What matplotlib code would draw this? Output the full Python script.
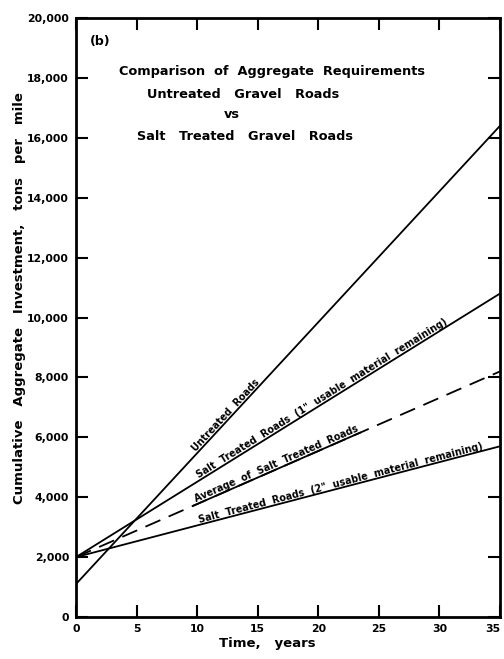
import numpy as np
import matplotlib
matplotlib.use("Agg")
import matplotlib.pyplot as plt

# ---- data ----
years = [0, 35]
untreated = [1100, 16400]
salt_1in = [2000, 10800]
salt_avg = [2000, 8200]
salt_2in = [2000, 5700]

x_ticks = [0, 5, 10, 15, 20, 25, 30, 35]
y_ticks = [0, 2000, 4000, 6000, 8000, 10000, 12000, 14000, 16000, 18000, 20000]
y_tick_labels = ["0", "2,000", "4,000", "6,000", "8,000", "10,000", "12,000",
                 "14,000", "16,000", "18,000", "20,000"]

labels = [
    ("Untreated  Roads", untreated, 10.0),
    ("Salt  Treated  Roads  (1\"  usable  material  remaining)", salt_1in, 10.2),
    ("Average  of  Salt  Treated  Roads", salt_avg, 10.0),
    ("Salt  Treated  Roads  (2\"  usable  material  remaining)", salt_2in, 10.2),
]

title_lines = [
    "Comparison  of  Aggregate  Requirements",
    "Untreated   Gravel   Roads",
    "vs",
    "Salt   Treated   Gravel   Roads",
]
title_x = [272, 243, 232, 245]
title_y = [72, 94, 114, 136]

fig = plt.figure(figsize=(5.04, 6.59), dpi=100)
ax = fig.add_axes([76/504, 42/659, 424/504, 599/659])
ax.set_xlim(0, 35)
ax.set_ylim(0, 20000)

lw = 1.3
ax.plot(years, untreated, color="black", lw=lw)
ax.plot(years, salt_1in, color="black", lw=lw)
ax.plot(years, salt_avg, color="black", lw=lw, dashes=(9, 5))
ax.plot(years, salt_2in, color="black", lw=lw)

for s in ax.spines.values():
    s.set_linewidth(2)

ax.set_xticks(x_ticks)
ax.set_xticklabels([str(v) for v in x_ticks])
ax.set_yticks(y_ticks)
ax.set_yticklabels(y_tick_labels)
ax.tick_params(direction="in", length=8.6, width=1.5, top=True, right=True,
               labelsize=7.8, pad=5)
for t in ax.get_xticklabels() + ax.get_yticklabels():
    t.set_fontweight("bold")
ax.get_xticklabels()[-1].set_ha("right")

fig.canvas.draw()
inv = ax.transData.inverted()

# line labels aligned with each line, sitting on the line
for text, ys, x0 in labels:
    p0 = ax.transData.transform((years[0], ys[0]))
    p1 = ax.transData.transform((years[1], ys[1]))
    a = np.arctan2(p1[1] - p0[1], p1[0] - p0[0])
    ang = np.degrees(a)
    y0 = np.interp(x0, years, ys)
    d = ax.transData.transform((x0, y0))
    off = 2.0
    dx, dy = inv.transform((d[0] - off*np.sin(a), d[1] + off*np.cos(a)))
    t = ax.text(dx, dy, text, rotation=ang, rotation_mode="anchor",
                ha="left", va="baseline", fontsize=6.9, fontweight="bold")
    if ys is salt_avg:
        fig.canvas.draw()
        bb = t.get_window_extent()
        x_end = inv.transform((bb.x1, bb.y1))[0]
        xs = np.array([x0 - 0.3, x_end])
        ax.plot(xs, np.interp(xs, years, ys), color="black", lw=lw)

ax.text(2.0, 19230, "(b)", fontsize=9, fontweight="bold", ha="center", va="center")
for line, xc, yp in zip(title_lines, title_x, title_y):
    fig.text(xc/504, 1 - yp/659, line, fontsize=9.3, fontweight="bold",
             ha="center", va="center")

fig.text(20/504, 1 - 298/659,
         "Cumulative   Aggregate   Investment,   tons   per   mile",
         rotation=90, fontsize=9.5, fontweight="bold", ha="center", va="center")
fig.text(267/504, 1 - 644/659, "Time,   years", fontsize=9.5, fontweight="bold",
         ha="center", va="center")

fig.savefig("out.png", dpi=100)
